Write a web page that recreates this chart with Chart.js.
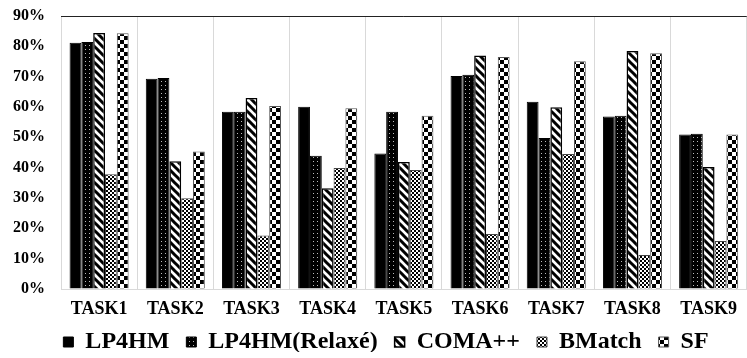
<!DOCTYPE html>
<html>
<head>
<meta charset="utf-8">
<script src="https://cdn.jsdelivr.net/npm/chart.js@4"></script>
<style>
  body { margin: 0; background: #fff; }
  #wrap { width: 747px; height: 358px; }
</style>
</head>
<body>
<div id="wrap"><canvas id="myBarChart"></canvas></div>
<script>
const tasks = ['TASK1', 'TASK2', 'TASK3', 'TASK4', 'TASK5', 'TASK6', 'TASK7', 'TASK8', 'TASK9'];
const lp4hm = [81.2, 69.3, 58.4, 60.1, 44.7, 70.2, 61.7, 56.9, 50.9];
const lp4hmRelaxe = [81.4, 69.6, 58.4, 43.9, 58.4, 70.6, 49.8, 57.1, 51.2];
const coma = [84.4, 42.1, 63.0, 33.2, 41.9, 77.0, 59.9, 78.5, 40.2];
const bmatch = [37.8, 29.9, 17.6, 39.9, 39.2, 18.1, 44.5, 11.2, 15.8];
const sf = [84.3, 45.3, 60.3, 59.6, 57.1, 76.5, 75.1, 77.7, 50.9];
const yTicks = [0, 10, 20, 30, 40, 50, 60, 70, 80, 90];

// small canvas tiles used as fill patterns
function makePattern(size, draw) {
    var c = document.createElement('canvas');
    c.width = size; c.height = size;
    var g = c.getContext('2d');
    draw(g, size);
    return g.createPattern(c, 'repeat');
}

var ctx = document.getElementById('myBarChart').getContext('2d');

var dots = makePattern(4, function (g, s) {
    g.fillStyle = '#000'; g.fillRect(0, 0, s, s);
    g.fillStyle = '#bbb'; g.fillRect(1, 1, 1, 1);
});
var stripes = makePattern(8, function (g, s) {
    g.fillStyle = '#fff'; g.fillRect(0, 0, s, s);
    g.strokeStyle = '#000'; g.lineWidth = 3;
    g.beginPath();
    g.moveTo(-2, -2); g.lineTo(s + 2, s + 2);
    g.moveTo(-2, s - 2); g.lineTo(2, s + 2);
    g.moveTo(s - 2, -2); g.lineTo(s + 2, 2);
    g.stroke();
});
var fineCheck = makePattern(4, function (g, s) {
    g.fillStyle = '#fff'; g.fillRect(0, 0, s, s);
    g.fillStyle = '#000'; g.fillRect(0, 0, 2, 2); g.fillRect(2, 2, 2, 2);
});
var bigCheck = makePattern(8, function (g, s) {
    g.fillStyle = '#fff'; g.fillRect(0, 0, s, s);
    g.fillStyle = '#000'; g.fillRect(0, 0, 4, 4); g.fillRect(4, 4, 4, 4);
});

// keep the wide item spacing of the legend but pull it closer to the axis
const legendTweak = {
    id: 'legendTweak',
    beforeInit(chart) {
        var lg = chart.legend;
        var fit = lg.fit;
        lg.fit = function () { fit.call(this); this.height = 39; };
    },
    afterLayout(chart) {
        chart.legend.top -= 6;
        chart.legend.bottom -= 6;
        chart.legend.left += 6;
        chart.legend.right += 6;
    }
};

var myChart = new Chart(ctx, {
    type: 'bar',
    data: {
        labels: tasks,
        datasets: [
            { label: 'LP4HM', data: lp4hm, backgroundColor: '#000', borderColor: '#000', borderWidth: 1 },
            { label: 'LP4HM(Relaxé)', data: lp4hmRelaxe, backgroundColor: dots, borderColor: '#000', borderWidth: 1 },
            { label: 'COMA++', data: coma, backgroundColor: stripes, borderColor: '#000', borderWidth: 1.5 },
            { label: 'BMatch', data: bmatch, backgroundColor: fineCheck, borderColor: '#444', borderWidth: 1 },
            { label: 'SF', data: sf, backgroundColor: bigCheck, borderColor: '#555', borderWidth: 1 }
        ]
    },
    plugins: [legendTweak],
    options: {
        responsive: true,
        maintainAspectRatio: false,
        animation: false,
        layout: { padding: { left: 13, right: 0, top: 16, bottom: 0 } },
        datasets: { bar: { categoryPercentage: 0.775, barPercentage: 1 } },
        scales: {
            x: {
                afterFit: function (scale) { scale.height = 30; },
                grid: { offset: true, color: '#d9d9d9', drawTicks: false },
                border: { color: '#d9d9d9' },
                ticks: {
                    color: '#000', padding: 10,
                    font: { family: 'Liberation Serif', size: 18, weight: 'bold' }
                }
            },
            y: {
                min: 0, max: 90,
                afterBuildTicks: function (scale) { scale.ticks = yTicks.map(v => ({ value: v })); },
                afterFit: function (scale) {
                    scale.width = 48;
                    scale.paddingTop = 0;
                    scale.paddingBottom = 0;
                },
                grid: { drawTicks: false, color: c => c.tick && c.tick.value === 90 ? '#222' : 'rgba(0,0,0,0)' },
                border: { display: false },
                ticks: {
                    color: '#000', padding: 16,
                    font: { family: 'Liberation Serif', size: 16, weight: 'bold' },
                    callback: v => v + '%'
                }
            }
        },
        plugins: {
            legend: {
                position: 'bottom',
                labels: {
                    color: '#000', boxWidth: 10, boxHeight: 10, padding: 17,
                    font: { family: 'Liberation Serif', size: 24, weight: 'bold' }
                }
            },
            tooltip: { enabled: false }
        }
    }
});
</script>
</body>
</html>
